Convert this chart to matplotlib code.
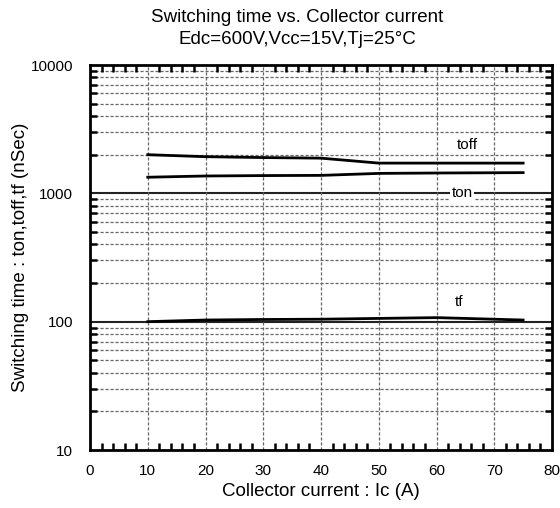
import matplotlib.pyplot as plt
from matplotlib.ticker import LogLocator, MultipleLocator, NullFormatter, FixedLocator

plt.rcParams['font.family'] = ['Liberation Sans', 'DejaVu Sans']

# values
ic = [10, 20, 30, 40, 50, 60, 75]
toff = [2000, 1930, 1900, 1880, 1720, 1720, 1720]
ton = [1335, 1365, 1375, 1380, 1430, 1440, 1450]
tf = [100, 103, 104, 104.5, 106, 107.5, 103]

fig = plt.figure(figsize=(5.6, 5.08), dpi=100)
ax = fig.add_axes([90/560, 1-450/508, 462/560, 385/508])

ax.set_yscale('log')
ax.set_xlim(0, 80)
ax.set_ylim(10, 10000)

# grid: dashed minor, solid major decades
for y in [20, 30, 40, 50, 60, 70, 80, 90, 200, 300, 400, 500, 600, 700, 800, 900,
          2000, 3000, 4000, 5000, 6000, 7000, 8000, 9000]:
    ax.axhline(y, color='#666666', lw=0.9, ls=(0, (2.5, 1.5)), zorder=1)
for y in [100, 1000]:
    ax.axhline(y, color='#222222', lw=1.5, zorder=1)
for x in range(10, 80, 10):
    ax.axvline(x, color='#666666', lw=0.9, ls=(0, (2.5, 1.5)), zorder=1)

ax.plot(ic, toff, color='black', lw=2, zorder=3)
ax.plot(ic, ton, color='black', lw=2, zorder=3)
ax.plot(ic, tf, color='black', lw=2, zorder=3)

ax.text(65.3, 2380, 'toff', ha='center', va='center', fontsize=11,
        bbox=dict(facecolor='white', edgecolor='none', pad=1), zorder=4)
ax.text(64.4, 1000, 'ton', ha='center', va='center', fontsize=11,
        bbox=dict(facecolor='white', edgecolor='none', pad=1), zorder=4)
ax.text(64, 143, 'tf', ha='center', va='center', fontsize=11,
        bbox=dict(facecolor='white', edgecolor='none', pad=1), zorder=4)

ax.xaxis.set_major_locator(MultipleLocator(10))
ax.xaxis.set_minor_locator(MultipleLocator(2))
ax.yaxis.set_major_locator(FixedLocator([10, 100, 1000, 10000]))
ax.yaxis.set_minor_locator(LogLocator(base=10, subs=range(2, 10)))
ax.yaxis.set_minor_formatter(NullFormatter())
ax.set_yticklabels(['10', '100', '1000', '10000'])

ax.tick_params(which='major', direction='in', length=0, labelsize=11)
ax.tick_params(axis='x', which='major', pad=10)
ax.tick_params(axis='y', which='major', pad=12)
ax.tick_params(which='minor', direction='in', length=5, width=1.8,
               top=True, right=True)

for s in ax.spines.values():
    s.set_linewidth(2)

ax.set_xlabel('Collector current : Ic (A)', fontsize=13.5, labelpad=4)
ax.set_ylabel('Switching time : ton,toff,tf (nSec)', fontsize=13.5, labelpad=1)

fig.text(297/560, 1-17/508, 'Switching time vs. Collector current', ha='center',
         va='center', fontsize=13.5)
fig.text(297/560, 1-40/508, 'Edc=600V,Vcc=15V,Tj=25°C', ha='center',
         va='center', fontsize=13.5)

fig.savefig('out.png', dpi=100)
